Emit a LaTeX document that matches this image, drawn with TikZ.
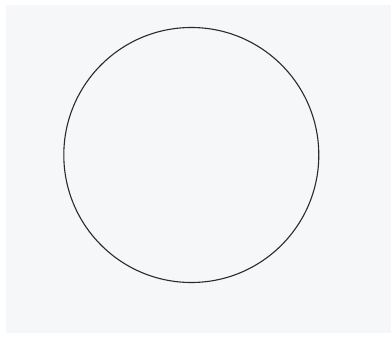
\documentclass[tikz,border=0pt]{standalone}
\definecolor{bg}{HTML}{F6F7F9}
\definecolor{ink}{HTML}{2A2A2A}
\tikzset{ring/.style={draw=ink, line width=1.1pt, circle, minimum size=255pt, inner sep=0pt}}
\begin{document}
\begin{tikzpicture}[x=1pt,y=-1pt]
\useasboundingbox (0,0) rectangle (391,337);
\fill[white] (0,0) rectangle (391,337);
\fill[bg] (6,5) rectangle (391,333);
\node[ring] (c) at (191.3,155) {};
\end{tikzpicture}
\end{document}
